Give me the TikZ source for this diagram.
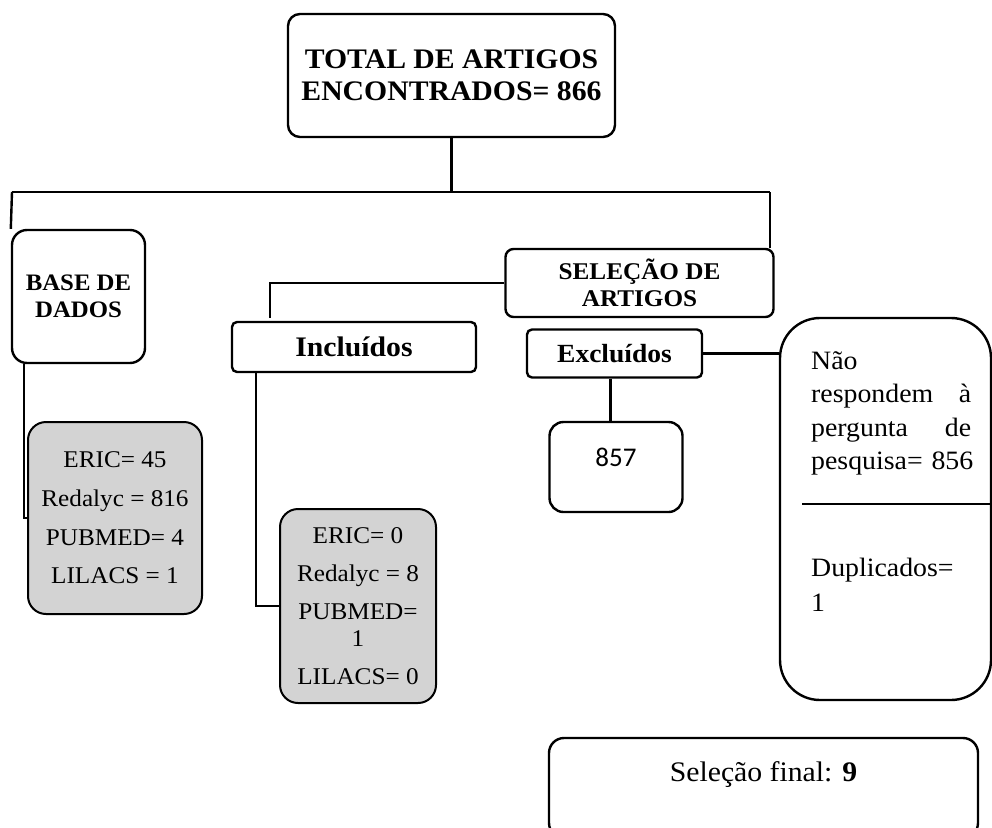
\documentclass[tikz,border=0pt]{standalone}
\usepackage{fontspec}
\setmainfont[FakeStretch=1.05]{Liberation Serif}
\newfontfamily\carlito{Carlito}
\usetikzlibrary{calc}
\definecolor{boxgray}{RGB}{211,211,211}
\begin{document}
\begin{tikzpicture}[x=1pt,y=-1pt,
  box/.style={draw, line width=2.4pt, inner sep=0pt, rounded corners=#1},
  box/.default=10pt,
  graybox/.style={draw, line width=2pt, fill=boxgray, inner sep=0pt, rounded corners=18pt,
    align=center, font=\fontsize{24}{27}\selectfont},
  conn/.style={line width=2.4pt},
  txt/.style={inner sep=0pt}
]
\useasboundingbox (0,0) rectangle (992,827);
\clip (0,0) rectangle (992,827);

% boxes
\node[box=12pt, minimum width=327pt, minimum height=123pt, align=center,
  font=\bfseries\fontsize{28.3}{32}\selectfont] (top) at (451.5,75.5)
  {TOTAL DE ARTIGOS\\ENCONTRADOS= 866};
\node[box=15pt, minimum width=133pt, minimum height=133pt, align=center,
  font=\bfseries\fontsize{23.6}{27}\selectfont] (base) at (78.5,296.5)
  {BASE DE\\DADOS};
\node[box=8pt, minimum width=268pt, minimum height=68pt, align=center,
  font=\bfseries\fontsize{24}{27}\selectfont] (sel) at (639.5,283)
  {SELEÇÃO DE\\ARTIGOS};
\node[box=5pt, minimum width=244pt, minimum height=50pt,
  font=\bfseries\fontsize{28.3}{30}\selectfont] (incl) at (354,347) {Incluídos};
\node[box=5pt, minimum width=175pt, minimum height=48pt,
  font=\bfseries\fontsize{26.2}{30}\selectfont] (excl) at (614.5,353.5) {Excluídos};
\node[box=14pt, minimum width=133pt, minimum height=90pt] (n857) at (616,467) {};
\node[txt, font=\carlito\fontsize{27}{30}\selectfont] (t857) at (616,457) {857};

\node[graybox, minimum width=174pt, minimum height=192pt] (g1) at (115,518)
  {ERIC= 45\\[11.7pt]Redalyc = 816\\[11.7pt]PUBMED= 4\\[11.7pt]LILACS = 1};
\node[graybox, minimum width=156pt, minimum height=194pt] (g2) at (358,606)
  {ERIC= 0\\[11pt]Redalyc = 8\\[11pt]PUBMED=\\1\\[11pt]LILACS= 0};

\node[box=40pt, minimum width=211pt, minimum height=382pt] (nao) at (885.5,509) {};
\node[txt, anchor=base west, text width=200pt, align=left,
  font=\fontsize{26.5}{33.5}\selectfont] (tnao) at (811,369)
  {Não\\\makebox[160pt][s]{respondem\hfill à}\\\makebox[160pt][s]{pergunta\hfill de}\\pesquisa= 856};
\node[txt, anchor=base west, text width=200pt, align=left,
  font=\fontsize{26.5}{35}\selectfont] (tdup) at (811,576)
  {Duplicados=\\1};
\coordinate (s1) at (802,504);
\coordinate (s2) at (990,504);
\draw[line width=1.2pt] (s1) -- (s2);

\node[box=15pt, minimum width=429pt, minimum height=100pt] (fin) at (763.5,788) {};
\node[txt, font=\fontsize{28.3}{30}\selectfont] (tfin) at (763.5,775)
  {Seleção final: \textbf{9}};

% connectors
\coordinate (hl) at (12,192);
\coordinate (hr) at (770,192);
\coordinate (ik) at (270,318);
\draw[conn] (top.south) -- (top.south |- hl);
\draw[conn] (hl) -- (hr);
\draw[conn] (hl) -- (base.north west);
\draw[conn] (hr) -- (hr |- sel.north);
\draw[conn] (sel.west) -| (ik);
\draw[conn] ([xshift=13pt]base.south west) |- (g1.west);
\draw[conn] ([xshift=25pt]incl.south west) |- (g2.west);
\draw[conn] (excl.east) -- (excl.east -| nao.west);
\draw[conn] ([xshift=-4pt]excl.south) -- ([xshift=-4pt]excl.south |- n857.north);
\end{tikzpicture}
\end{document}
